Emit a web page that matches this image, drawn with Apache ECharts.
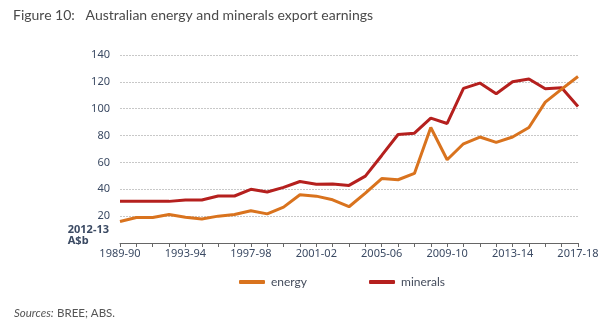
<!DOCTYPE html>
<html>
<head>
<meta charset="utf-8">
<script src="https://cdn.jsdelivr.net/npm/echarts@6/dist/echarts.min.js"></script>
<style>
html,body{margin:0;padding:0;background:#fff;}
#c{width:605px;height:327px;}
</style>
</head>
<body>
<div id="c"></div>
<script>
var years = ['1989-90','1990-91','1991-92','1992-93','1993-94','1994-95','1995-96','1996-97','1997-98','1998-99','1999-00','2000-01','2001-02','2002-03','2003-04','2004-05','2005-06','2006-07','2007-08','2008-09','2009-10','2010-11','2011-12','2012-13','2013-14','2014-15','2015-16','2016-17','2017-18'];
var energy = [16,19,19,21.2,19.2,17.8,20,21.2,24,21.7,26.7,35.9,34.9,32.2,27,37.1,48,47.1,51.8,86,62,73.9,78.9,74.9,78.9,86,104.9,114.6,124];
var minerals = [31,31,31,31,32,32,35,35,40,38,41.4,45.8,43.8,44,42.9,49.8,65.2,80.8,81.8,93,89,115.1,119.1,111.2,120.1,122.1,114.9,115.6,101.7];
var yTicks = [20,40,60,80,100,120,140];

var chart = echarts.init(document.getElementById('c'), null, {renderer:'canvas'});
var font = '"Noto Sans", sans-serif';
var font2 = 'Lato, sans-serif';
chart.setOption({
  animation:false,
  grid:{left:120,right:27,top:55,bottom:84},
  title:{text:'Figure 10:   Australian energy and minerals export earnings',left:13,top:8,padding:0,
    textStyle:{fontFamily:font2,fontSize:14,fontWeight:'normal',color:'#4a4a4a'}},
  legend:{left:239,top:276,padding:0,itemWidth:26,itemHeight:4,itemGap:62,icon:'roundRect',
    textStyle:{fontFamily:font2,fontSize:12,color:'#444c5c',padding:[0,0,0,1]},
    data:['energy','minerals']},
  graphic:[
    {type:'text',right:605-109,top:224,style:{text:'2012-13\nA$b',align:'right',fontFamily:font,fontSize:11,fontWeight:'bold',lineHeight:11,fill:'#3b4a63'}},
    {type:'text',left:14,top:307,style:{rich:{i:{fontStyle:'italic',fontFamily:font2,fontSize:11.5,fill:'#555'},n:{fontFamily:font2,fontSize:11.5,fill:'#555'}},text:'{i|Sources:} {n|BREE; ABS.}'}}
  ],
  xAxis:{type:'category',data:years,boundaryGap:false,
    axisLine:{lineStyle:{color:'#666',width:1}},
    axisTick:{show:true,interval:0,length:4,lineStyle:{color:'#666'}},
    axisLabel:{interval:3,fontFamily:font,fontSize:11,color:'#3b4a63',margin:5}},
  yAxis:{type:'value',min:0,max:140,interval:20,
    axisLine:{show:false},axisTick:{show:false},
    splitLine:{show:true,lineStyle:{color:'#c8c8c8',type:[2,1],width:1}},
    axisLabel:{fontFamily:font,fontSize:11,color:'#3b4a63',margin:10,
      formatter:function(v){return yTicks.indexOf(v)>=0?String(v):'';}}},
  series:[
    {name:'energy',type:'line',data:energy,symbol:'none',lineStyle:{color:'#d9731e',width:3},itemStyle:{color:'#d9731e'},z:3},
    {name:'minerals',type:'line',data:minerals,symbol:'none',lineStyle:{color:'#b5201e',width:3},itemStyle:{color:'#b5201e'},z:2}
  ]
});
</script>
</body>
</html>
